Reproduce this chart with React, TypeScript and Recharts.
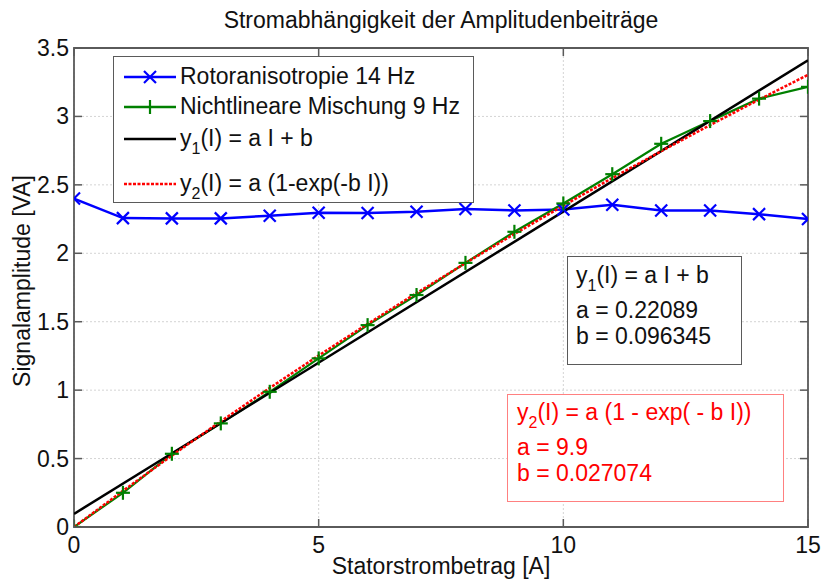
import React from 'react';
import { LineChart, Line, XAxis, YAxis, CartesianGrid, ReferenceArea } from 'recharts';

// Stator current steps [A]
const currentA = [0, 1, 2, 3, 4, 5, 6, 7, 8, 9, 10, 11, 12, 13, 14, 15];
// Rotor anisotropy component at 14 Hz [VA]
const rotorAmplitude = [2.4, 2.257, 2.255, 2.255, 2.274, 2.296, 2.295, 2.303, 2.323, 2.313, 2.32, 2.355, 2.313, 2.313, 2.286, 2.25];
// Nonlinear mixing component at 9 Hz [VA]
const mixAmplitude = [0, 0.25, 0.535, 0.757, 0.988, 1.232, 1.475, 1.695, 1.93, 2.157, 2.364, 2.578, 2.8, 2.966, 3.13, 3.216];
// Linear fit y1(I) = 0.22089 I + 0.096345, end points
const linFitI = [0, 15];
const linFitY = [0.096, 3.41];
// Exponential fit y2(I) = 9.9 (1 - exp(-0.027074 I))
const expFitY = [0, 0.264, 0.522, 0.772, 1.016, 1.253, 1.484, 1.709, 1.928, 2.141, 2.348, 2.55, 2.746, 2.937, 3.123, 3.304];

const xTicks = [0, 5, 10, 15];
const yTicks = [0, 0.5, 1, 1.5, 2, 2.5, 3, 3.5];

const rotorData = currentA.map((x, i) => ({ x, y: rotorAmplitude[i] }));
const mixData = currentA.map((x, i) => ({ x, y: mixAmplitude[i] }));
const linData = linFitI.map((x, i) => ({ x, y: linFitY[i] }));
const expData = currentA.map((x, i) => ({ x, y: expFitY[i] }));

const W = 821;
const H = 583;
const PLOT = { left: 74, right: 808, top: 48, bottom: 527 };
const FONT = '"Liberation Sans", Arial, Helvetica, sans-serif';
const FS = 23;
const AXIS = '#5a5a5a';
const BLUE = '#0000ff';
const GREEN = '#008000';
const RED = '#ff0000';

const fmt = (v: number) => String(v);

const YTick = (props: any) => {
  const { y, payload } = props;
  return (
    <g>
      <text x={PLOT.left - 5} y={y + 8} textAnchor="end" fontSize={FS} fontFamily={FONT} fill="#111">
        {fmt(payload.value)}
      </text>
      <line x1={PLOT.left} x2={PLOT.left + 8} y1={y} y2={y} stroke={AXIS} strokeWidth={1.5} />
      <line x1={PLOT.right - 8} x2={PLOT.right} y1={y} y2={y} stroke={AXIS} strokeWidth={1.5} />
    </g>
  );
};

const XTick = (props: any) => {
  const { x, payload } = props;
  return (
    <g>
      <text x={x} y={PLOT.bottom + 26} textAnchor="middle" fontSize={FS} fontFamily={FONT} fill="#111">
        {fmt(payload.value)}
      </text>
      <line x1={x} x2={x} y1={PLOT.bottom} y2={PLOT.bottom - 8} stroke={AXIS} strokeWidth={1.5} />
      <line x1={x} x2={x} y1={PLOT.top} y2={PLOT.top + 8} stroke={AXIS} strokeWidth={1.5} />
    </g>
  );
};

const CrossDot = (props: any) => {
  const { cx, cy } = props;
  if (cx == null || cy == null) return null;
  const s = 6;
  return (
    <g>
      <line x1={cx - s} y1={cy - s} x2={cx + s} y2={cy + s} stroke={BLUE} strokeWidth={2.2} />
      <line x1={cx - s} y1={cy + s} x2={cx + s} y2={cy - s} stroke={BLUE} strokeWidth={2.2} />
    </g>
  );
};

const PlusDot = (props: any) => {
  const { cx, cy } = props;
  if (cx == null || cy == null) return null;
  const s = 7;
  return (
    <g>
      <line x1={cx - s} y1={cy} x2={cx + s} y2={cy} stroke={GREEN} strokeWidth={2.2} />
      <line x1={cx} y1={cy - s} x2={cx} y2={cy + s} stroke={GREEN} strokeWidth={2.2} />
    </g>
  );
};

const Sub = ({ children }: { children: React.ReactNode }) => (
  <span style={{ fontSize: 16, position: 'relative', top: 8, lineHeight: 0 }}>{children}</span>
);

type Row = { top: number; swatch: React.ReactNode; label: React.ReactNode };

const legendRows: Row[] = [
  {
    top: 19,
    swatch: (
      <svg width={52} height={20}>
        <line x1={0} x2={52} y1={10} y2={10} stroke={BLUE} strokeWidth={2.5} />
        <line x1={20} y1={4} x2={32} y2={16} stroke={BLUE} strokeWidth={2.2} />
        <line x1={20} y1={16} x2={32} y2={4} stroke={BLUE} strokeWidth={2.2} />
      </svg>
    ),
    label: <>Rotoranisotropie 14 Hz</>,
  },
  {
    top: 49,
    swatch: (
      <svg width={52} height={20}>
        <line x1={0} x2={52} y1={10} y2={10} stroke={GREEN} strokeWidth={2.5} />
        <line x1={26} y1={3} x2={26} y2={17} stroke={GREEN} strokeWidth={2.2} />
      </svg>
    ),
    label: <>Nichtlineare Mischung 9 Hz</>,
  },
  {
    top: 81,
    swatch: (
      <svg width={52} height={20}>
        <line x1={0} x2={52} y1={10} y2={10} stroke="#000" strokeWidth={2.5} />
      </svg>
    ),
    label: (
      <>
        y<Sub>1</Sub>(I) = a I + b
      </>
    ),
  },
  {
    top: 126,
    swatch: (
      <svg width={52} height={20}>
        <line x1={0} x2={52} y1={10} y2={10} stroke={RED} strokeWidth={2.5} strokeDasharray="3 1.5" />
      </svg>
    ),
    label: (
      <>
        y<Sub>2</Sub>(I) = a (1-exp(-b I))
      </>
    ),
  },
];

const textLine = (top: number, left: number, content: React.ReactNode, color = '#111') => (
  <div
    style={{
      position: 'absolute',
      left,
      top: top - 13,
      height: 26,
      lineHeight: '26px',
      whiteSpace: 'nowrap',
      color,
    }}
  >
    {content}
  </div>
);

export default function App() {
  return (
    <div
      style={{
        position: 'fixed',
        left: 0,
        top: 0,
        width: W,
        height: H,
        overflow: 'hidden',
        background: '#fff',
        fontFamily: FONT,
        fontSize: FS,
        color: '#111',
      }}
    >
      <LineChart
        width={W}
        height={H}
        margin={{ top: PLOT.top, right: W - PLOT.right, bottom: 0, left: 0 }}
      >
        <CartesianGrid
          stroke="#d4d4d4"
          strokeDasharray="2 2"
          strokeWidth={1}
          horizontalValues={yTicks}
          verticalValues={xTicks}
        />
        <XAxis
          type="number"
          dataKey="x"
          domain={[0, 15]}
          ticks={xTicks}
          allowDataOverflow
          height={H - PLOT.bottom}
          tickLine={false}
          axisLine={false}
          tick={<XTick />}
          interval={0}
        />
        <YAxis
          type="number"
          domain={[0, 3.5]}
          ticks={yTicks}
          allowDataOverflow
          width={PLOT.left}
          tickLine={false}
          axisLine={false}
          tick={<YTick />}
          interval={0}
        />
        <ReferenceArea
          x1={0}
          x2={15}
          y1={0}
          y2={3.5}
          fill="none"
          fillOpacity={0}
          stroke={AXIS}
          strokeWidth={1.8}
          ifOverflow="visible"
        />
        <Line
          data={rotorData}
          dataKey="y"
          stroke={BLUE}
          strokeWidth={2.5}
          dot={<CrossDot />}
          activeDot={false}
          isAnimationActive={false}
        />
        <Line
          data={mixData}
          dataKey="y"
          stroke={GREEN}
          strokeWidth={2.2}
          dot={<PlusDot />}
          activeDot={false}
          isAnimationActive={false}
        />
        <Line
          data={linData}
          dataKey="y"
          stroke="#000"
          strokeWidth={2.5}
          dot={false}
          activeDot={false}
          isAnimationActive={false}
        />
        <Line
          data={expData}
          dataKey="y"
          stroke={RED}
          strokeWidth={2.5}
          strokeDasharray="3 1.5"
          dot={false}
          activeDot={false}
          isAnimationActive={false}
        />
      </LineChart>

      {/* title */}
      <div
        style={{
          position: 'absolute',
          left: PLOT.left,
          width: PLOT.right - PLOT.left,
          top: 7,
          height: 26,
          lineHeight: '26px',
          textAlign: 'center',
          whiteSpace: 'nowrap',
        }}
      >
        Stromabhängigkeit der Amplitudenbeiträge
      </div>

      {/* x-axis label */}
      <div
        style={{
          position: 'absolute',
          left: PLOT.left,
          width: PLOT.right - PLOT.left,
          top: 553,
          height: 26,
          lineHeight: '26px',
          textAlign: 'center',
          whiteSpace: 'nowrap',
        }}
      >
        Statorstrombetrag [A]
      </div>

      {/* y-axis label */}
      <div
        style={{
          position: 'absolute',
          left: 22,
          top: 281,
          transform: 'translate(-50%, -50%) rotate(-90deg)',
          whiteSpace: 'nowrap',
          lineHeight: '26px',
        }}
      >
        Signalamplitude [VA]
      </div>

      {/* legend */}
      <div
        style={{
          position: 'absolute',
          left: 113,
          top: 56,
          width: 361,
          height: 147,
          boxSizing: 'border-box',
          border: `1.5px solid ${AXIS}`,
          background: '#fff',
        }}
      >
        {legendRows.map((r, i) => (
          <div key={i} style={{ position: 'absolute', left: 0, top: r.top - 13, height: 26, width: '100%' }}>
            <div style={{ position: 'absolute', left: 10, top: 3 }}>{r.swatch}</div>
            <div style={{ position: 'absolute', left: 66, top: 0, lineHeight: '26px', whiteSpace: 'nowrap' }}>
              {r.label}
            </div>
          </div>
        ))}
      </div>

      {/* linear fit parameters */}
      <div
        style={{
          position: 'absolute',
          left: 567,
          top: 256,
          width: 175,
          height: 109,
          boxSizing: 'border-box',
          border: `1.5px solid ${AXIS}`,
          background: '#fff',
        }}
      />
      {textLine(275, 576, <>y<Sub>1</Sub>(I) = a I + b</>)}
      {textLine(310, 576, <>a = 0.22089</>)}
      {textLine(336, 576, <>b = 0.096345</>)}

      {/* exponential fit parameters */}
      <div
        style={{
          position: 'absolute',
          left: 507,
          top: 394,
          width: 277,
          height: 108,
          boxSizing: 'border-box',
          border: '1.5px solid #ff8080',
          background: '#fff',
        }}
      />
      {textLine(412, 517, <>y<Sub>2</Sub>(I) = a (1 - exp( - b I))</>, RED)}
      {textLine(447, 517, <>a = 9.9</>, RED)}
      {textLine(473, 517, <>b = 0.027074</>, RED)}
    </div>
  );
}
